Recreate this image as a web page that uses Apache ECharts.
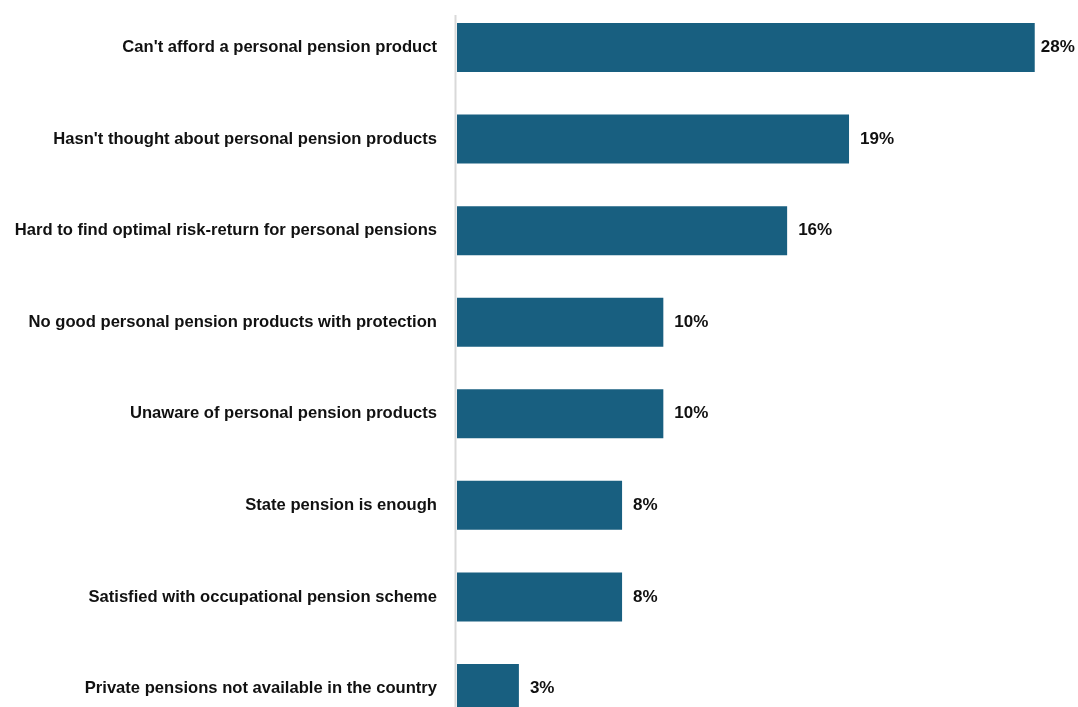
<!DOCTYPE html>
<html>
<head>
<meta charset="utf-8">
<style>
  html, body { margin: 0; padding: 0; background: #ffffff; }
  #chart { width: 1078px; height: 707px; }
</style>
<script src="https://cdn.jsdelivr.net/npm/echarts@6/dist/echarts.min.js"></script>
</head>
<body>
<div id="chart"></div>
<script>
// Reasons for not holding a personal pension product (share of respondents, %)
const categories = [
  "Can't afford a personal pension product",
  "Hasn't thought about personal pension products",
  "Hard to find optimal risk-return for personal pensions",
  "No good personal pension products with protection",
  "Unaware of personal pension products",
  "State pension is enough",
  "Satisfied with occupational pension scheme",
  "Private pensions not available in the country"
];
const shares = [28, 19, 16, 10, 10, 8, 8, 3];

const BAR_COLOR = '#185f80';
const TEXT_COLOR = '#111111';
const FONT = 'Liberation Sans, Arial, sans-serif';
const X_MAX = 30;
const LABEL_GAP = 11;

const chart = echarts.init(document.getElementById('chart'), null, { renderer: 'canvas' });

// The longest bar sits close to the right edge, so its label is tucked in a little
const maxShare = Math.max(...shares);
const barData = shares.map(v => (
  v === maxShare ? { value: v, label: { distance: 6 } } : v
));

const option = {
  animation: false,
  backgroundColor: '#ffffff',
  grid: {
    left: 457, top: 1.7, width: 619, height: 732.6,
    containLabel: false,
    outerBoundsMode: 'none'
  },
  xAxis: {
    type: 'value',
    min: 0,
    max: X_MAX,
    show: false
  },
  yAxis: {
    type: 'category',
    data: categories,
    inverse: true,
    axisLine: { show: false },
    axisTick: { show: false },
    splitLine: { show: false },
    axisLabel: {
      margin: 20,
      color: TEXT_COLOR,
      fontFamily: FONT,
      fontWeight: 'bold',
      fontSize: 16.6
    }
  },
  series: [{
    type: 'bar',
    data: barData,
    barWidth: '53.5%',
    itemStyle: { color: BAR_COLOR },
    label: {
      show: true,
      position: 'right',
      distance: LABEL_GAP,
      formatter: p => p.value + '%',
      color: TEXT_COLOR,
      fontFamily: FONT,
      fontWeight: 'bold',
      fontSize: 17
    }
  }]
};

chart.setOption(option);

// Light vertical baseline at the value axis origin
const x0 = chart.convertToPixel({ xAxisIndex: 0 }, 0);
chart.setOption({
  graphic: [{
    type: 'line',
    shape: { x1: x0 - 1.5, y1: 15, x2: x0 - 1.5, y2: 707 },
    style: { stroke: '#d9d9d9', lineWidth: 2 },
    z: 10
  }]
});
</script>
</body>
</html>
